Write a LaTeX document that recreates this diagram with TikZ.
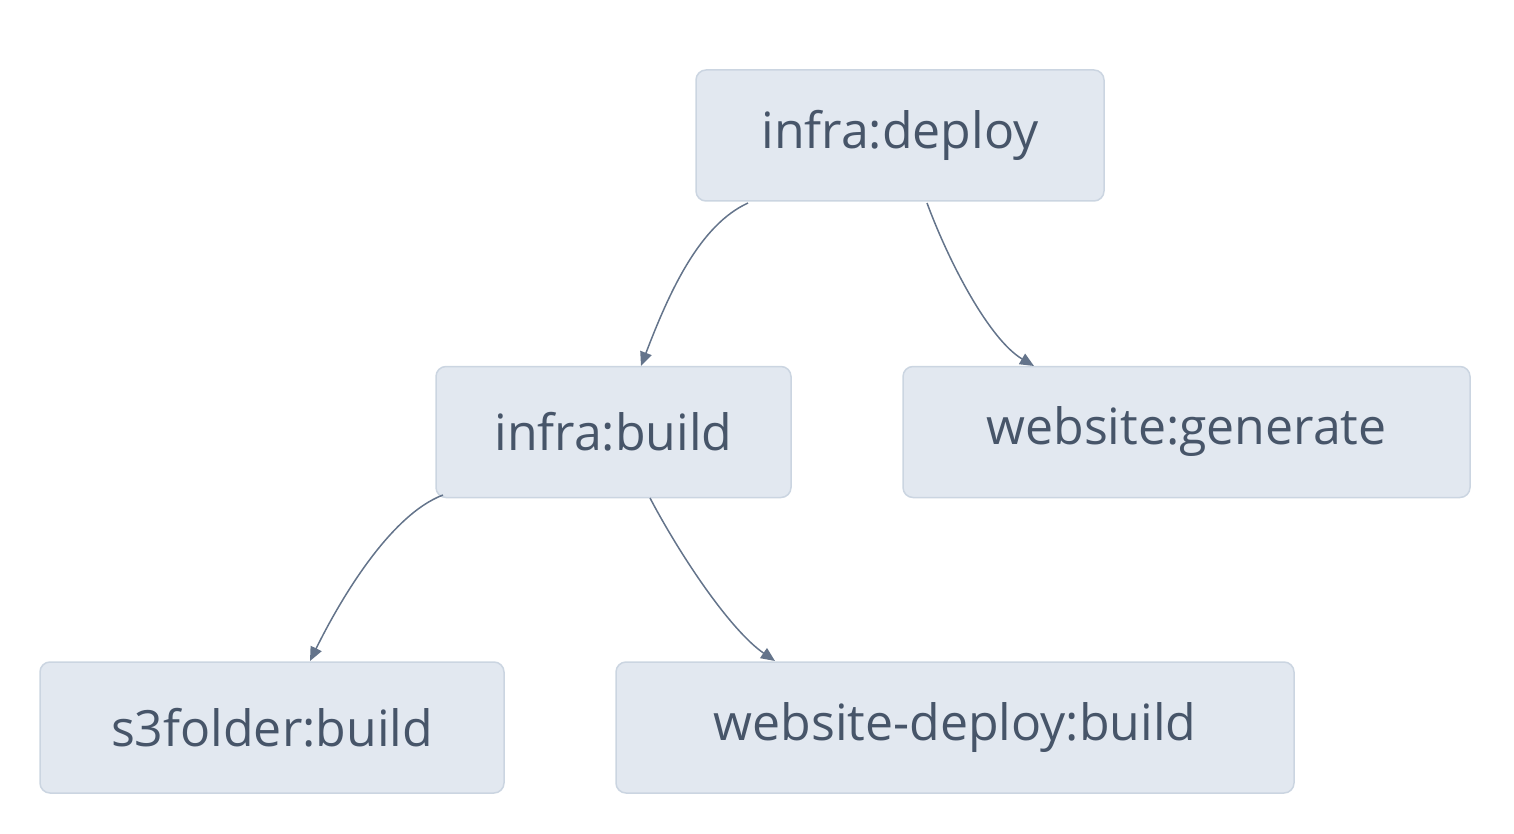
\documentclass[tikz,border=0pt]{standalone}
\usepackage{fontspec}
\setmainfont{Open Sans}
\usetikzlibrary{arrows.meta}
\definecolor{nfill}{HTML}{E2E8F0}
\definecolor{nline}{HTML}{CBD5E1}
\definecolor{ntext}{HTML}{475569}
\definecolor{eline}{HTML}{64748B}
\begin{document}
\begin{tikzpicture}[x=1pt,y=-1pt,
  box/.style={draw=nline,fill=nfill,rounded corners=10pt,line width=1.5pt,text=ntext,
    font=\fontsize{50}{60}\selectfont,minimum height=131pt,inner sep=0pt},
  edge/.style={draw=eline,line width=1.5pt,-{Triangle[length=14pt,width=12pt]}}]
\useasboundingbox (0,0) rectangle (1514,834);
\node[box,minimum width=408pt] (deploy) at (900,135.5) {infra:deploy};
\node[box,minimum width=355pt] (build) at (613.5,432) {infra:build};
\node[box,minimum width=567pt] (gen) at (1186.5,432) {website:generate};
\node[box,minimum width=464pt] (s3) at (272,727.5) {s3folder:build};
\node[box,minimum width=678pt] (wdb) at (955,727.5) {website-deploy:build};
\coordinate (a1) at (748,203); \coordinate (a2) at (641,366);
\coordinate (b1) at (927,203); \coordinate (b2) at (1034,366);
\coordinate (c1) at (443,495); \coordinate (c2) at (310,661);
\coordinate (d1) at (650,498); \coordinate (d2) at (775,661);
\draw[edge] (a1) .. controls (700,225) and (670,290) .. (a2);
\draw[edge] (b1) .. controls (950,265) and (990,340) .. (b2);
\draw[edge] (c1) .. controls (390,515) and (340,600) .. (c2);
\draw[edge] (d1) .. controls (680,555) and (730,630) .. (d2);
\end{tikzpicture}
\end{document}
